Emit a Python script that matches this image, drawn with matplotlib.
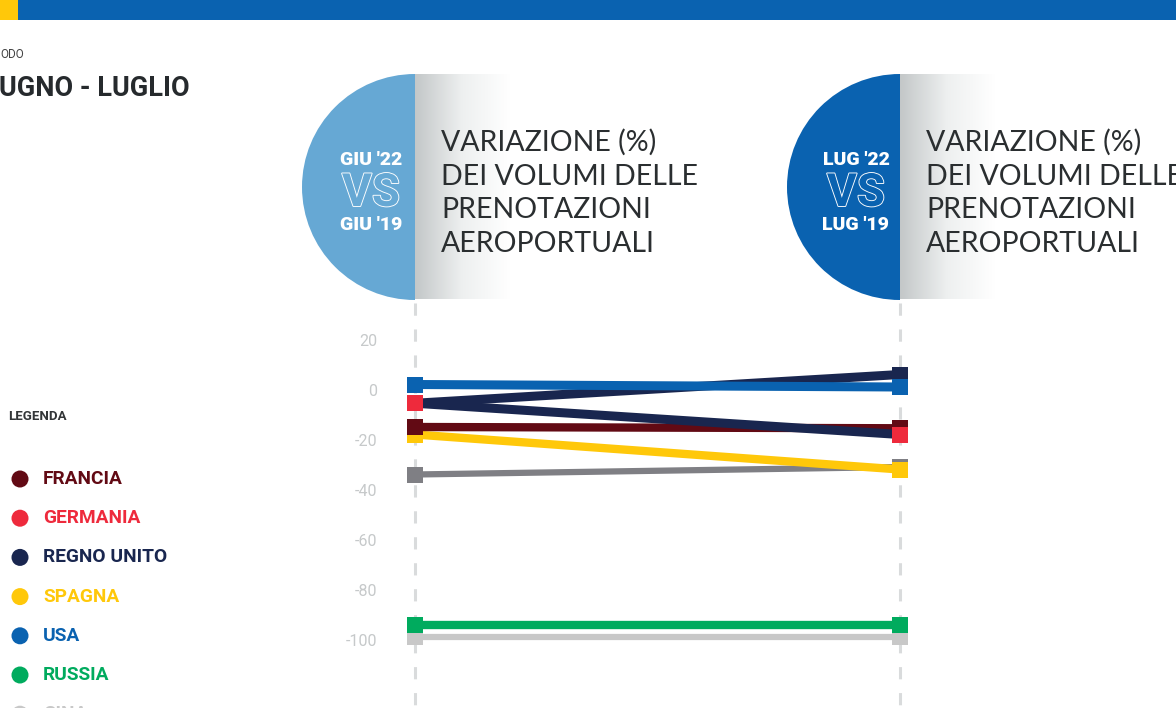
import numpy as np
import matplotlib
matplotlib.use('Agg')
import matplotlib.pyplot as plt
import matplotlib.patheffects as pe
from matplotlib.patches import Wedge, Rectangle, Circle
from matplotlib.colors import LinearSegmentedColormap

# Data: variation (%) June 22 vs 19, July 22 vs 19
countries = ['FRANCIA', 'GERMANIA', 'REGNO UNITO', 'SPAGNA', 'USA', 'RUSSIA', 'CINA']
legend_colors = ['#620a14', '#ee2a3c', '#19264f', '#ffc80a', '#0a62b0', '#00ab5e', '#c8c8c8']
giu = [-14, -4.5, -4.5, -17, 3, -93, -98]
lug = [-14.5, -17, 7, -31, 2, -93, -98]
other_giu, other_lug = -33, -30  # grey series without legend entry
yticks = [20, 0, -20, -40, -60, -80, -100]

W, H = 11.76, 7.08
fig = plt.figure(figsize=(W, H), dpi=100)

# overlay axes in pixel coordinates for the decorations
deco = fig.add_axes([0, 0, 1, 1])
deco.set_xlim(0, 1176)
deco.set_ylim(708, 0)
deco.axis('off')

deco.add_patch(Rectangle((0, 0), 1176, 20, color='#0a62b0', lw=0))
deco.add_patch(Rectangle((0, 0), 18, 20, color='#ffc80a', lw=0))
deco.text(0, 55, 'ODO', fontsize=8.5, color='#444444', va='center', ha='left', family='Roboto')
deco.text(-1, 88, 'UGNO - LUGLIO', fontsize=19.5, fontweight='bold', color='#262a2d',
          va='center', ha='left', family='Roboto')

# dashed column guides
for xc in (415, 900):
    deco.plot([xc, xc], [303, 708], color='#d9dbdc', lw=2.2, ls=(0, (4, 4.5)), zorder=1)

grad_cmap = LinearSegmentedColormap.from_list('g', ['#c3c7c8', '#eef0f0', '#ffffff'])
panels = [(415, '#66a8d4', "GIU '22", "GIU '19"), (900, '#0a62b0', "LUG '22", "LUG '19")]
for xc, col, top, bot in panels:
    deco.add_patch(Wedge((xc, 187), 113, 90, 270, color=col, lw=0, zorder=2))
    grad = np.linspace(0, 1, 256).reshape(1, -1)
    deco.imshow(grad, cmap=grad_cmap, extent=[xc, xc + 95, 299, 74], aspect='auto', zorder=2)
    cx = xc - 44
    deco.text(cx, 160, top, fontsize=14, fontweight='heavy', color='white', ha='center',
              va='center', family='Roboto', zorder=3)
    deco.text(cx, 193, 'VS', fontsize=33, fontweight='bold', color=col, ha='center',
              va='center', family='Roboto', zorder=3,
              path_effects=[pe.withStroke(linewidth=1.3, foreground='white')])
    deco.text(cx, 225, bot, fontsize=14, fontweight='heavy', color='white', ha='center',
              va='center', family='Roboto', zorder=3)
    deco.text(xc + 26, 193, 'VARIAZIONE (%)\nDEI VOLUMI DELLE\nPRENOTAZIONI\nAEROPORTUALI',
              fontsize=20.5, color='#2a2e30', ha='left', va='center', family='Lato',
              linespacing=1.37, zorder=3)

# legend
deco.text(8, 416, 'LEGENDA', fontsize=9.5, fontweight='bold', color='#333638',
          va='center', family='Roboto')
for i, (name, col) in enumerate(zip(countries, legend_colors)):
    yy = 479 + i * 39.2
    deco.add_patch(Circle((20, yy), 8.5, color=col, lw=0))
    deco.text(43, yy, name, fontsize=13.8, fontweight='bold', color=col, va='center',
              family='Roboto')

# data axes: x=0 -> 415 px, x=1 -> 900 px; y=0 -> 392 px, 2.5 px per unit
ax = fig.add_axes([172.5 / 1176, (708 - 704.5) / 708, 970 / 1176, 425 / 708])
ax.set_xlim(-0.5, 1.5)
ax.set_ylim(-125, 45)
ax.axis('off')
ax.patch.set_alpha(0)

for v in yticks:
    ax.text(-0.078, v, str(v), ha='right', va='center', fontsize=11.5, color='#c6c9ca',
            family='Roboto')

xs = [0, 1]
ms = 11.5


def draw(y0, y1, line_col, mark_col, lw, z):
    ax.plot(xs, [y0, y1], color=line_col, lw=lw, solid_capstyle='butt', zorder=z)
    ax.plot(xs, [y0, y1], ls='none', marker='s', ms=ms, color=mark_col, mew=0, zorder=z)


draw(other_giu, other_lug, '#7f7f84', '#7f7f84', 4.5, 3)
idx = {n: i for i, n in enumerate(countries)}
draw(giu[idx['SPAGNA']], lug[idx['SPAGNA']], '#ffc80a', '#ffc80a', 6, 4)
draw(giu[idx['FRANCIA']], lug[idx['FRANCIA']], '#620a14', '#620a14', 6, 5)
draw(giu[idx['REGNO UNITO']], lug[idx['REGNO UNITO']], '#19264f', '#19264f', 6.5, 6)
draw(giu[idx['GERMANIA']], lug[idx['GERMANIA']], '#19264f', '#ee2a3c', 6.5, 7)
draw(giu[idx['USA']], lug[idx['USA']], '#0a62b0', '#0a62b0', 6.5, 8)
draw(giu[idx['CINA']], lug[idx['CINA']], '#c8c8c8', '#c8c8c8', 4.5, 9)
draw(giu[idx['RUSSIA']], lug[idx['RUSSIA']], '#00ab5e', '#00ab5e', 6, 10)

fig.savefig('out.png', dpi=100)
